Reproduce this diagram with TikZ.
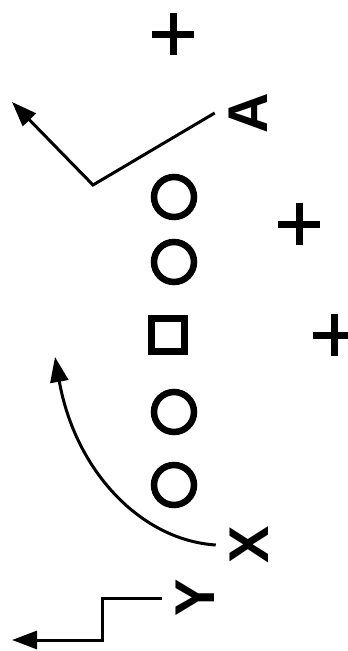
\documentclass[tikz,border=0pt]{standalone}
\usepackage{fontspec}
\setmainfont{Liberation Sans}
\usetikzlibrary{arrows.meta}
\begin{document}
\begin{tikzpicture}[x=1pt, y=-1pt, line width=3pt,
  player/.style={font=\bfseries\fontsize{56}{56}\selectfont, rotate=90, inner sep=0pt, outer sep=14pt},
  lineman/.style={circle, draw, line width=6.5pt, minimum size=40pt, inner sep=0pt},
  snapper/.style={rectangle, draw, line width=6.5pt, minimum size=33pt, inner sep=0pt},
  route/.style={line width=3pt, -{Triangle[length=25pt, width=18pt]}},
  pics/defender/.style={code={\draw[line width=7pt] (-21,0) -- (21,0) (0,-21) -- (0,21);}}]
  \useasboundingbox (0,0) rectangle (348,651);
  % defense
  \pic at (173,34) {defender};
  \pic at (299,224) {defender};
  \pic at (334,335) {defender};
  % line
  \foreach \n/\y in {o1/197, o2/262, o3/412, o4/485}
    \node[lineman] (\n) at (174,\y) {};
  \node[snapper] (ctr) at (168,335) {};
  % receivers
  \node[player] (A) at (248,113) {A};
  \node[player] (X) at (249,545) {X};
  \node[player] (Y) at (195,598) {Y};
  \coordinate (abend) at (93,185); \coordinate (aend) at (12,102);
  \coordinate (xend) at (55,357);
  \coordinate (ya) at (102,598); \coordinate (yb) at (102,640); \coordinate (yend) at (12,640);
  % routes
  \draw[route] (A.north) -- (abend) -- (aend);
  \draw[route] (X.north) .. controls (140,540) and (75,470) .. (xend);
  \draw[route] (Y.north) -- (ya) -- (yb) -- (yend);
\end{tikzpicture}
\end{document}
